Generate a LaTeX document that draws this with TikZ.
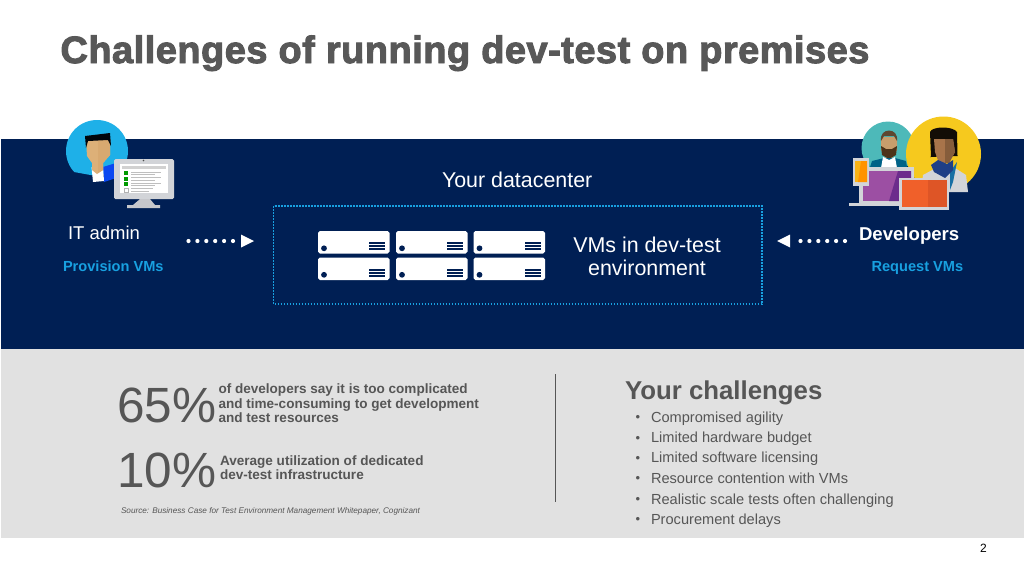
\documentclass[tikz,border=0pt]{standalone}
\usepackage{fontspec}
\setmainfont{Liberation Sans}
\definecolor{navy}{HTML}{001F54}
\definecolor{panel}{HTML}{E1E1E1}
\definecolor{azure}{HTML}{18A0E0}
\definecolor{sky}{HTML}{1EB0E8}
\definecolor{greytxt}{HTML}{565656}
\definecolor{titlegrey}{HTML}{585858}
\definecolor{skinA}{HTML}{DDB078}
\definecolor{skinB}{HTML}{A8744A}
\definecolor{monitor}{HTML}{D2D4D8}
\definecolor{tealc}{HTML}{4DB9B9}
\definecolor{sunny}{HTML}{F6C91E}
\definecolor{purpA}{HTML}{9C4FA3}
\definecolor{purpB}{HTML}{6C2C8C}
\definecolor{orngA}{HTML}{F0602A}
\definecolor{orngB}{HTML}{DE5526}
\definecolor{scarf}{HTML}{1F3F86}
\tikzset{
 x=1pt,y=-1pt,
 txt/.style={inner sep=0pt,outer sep=0pt,anchor=base west,align=left},
 lbl/.style={txt,text=white,font=\fontsize{21.4}{24}\selectfont},
 blue/.style={txt,text=azure,font=\fontsize{14.6}{16}\selectfont\bfseries},
 srv/.style={fill=white,rounded corners=1.8pt,draw=none},
 dots/.style={white,line width=4.2pt,line cap=round,dash pattern=on 0pt off 8.9pt},
 big/.style={txt,text=greytxt,font=\fontsize{49.5}{50}\selectfont},
 stat/.style={txt,text=greytxt,font=\fontsize{13.55}{14.75}\selectfont\bfseries,align=left},
 chal/.style={txt,text=greytxt,font=\fontsize{14.6}{20.4}\selectfont},
}
\newcommand{\srvbox}[2]{%
 \fill[srv] (#1,#2) rectangle +(71.5,22.5);
 \fill[navy] (#1+6,#2+17.3) circle (2.9);
 \fill[navy] (#1+51,#2+11) rectangle +(16,2);
 \fill[navy] (#1+51,#2+14.2) rectangle +(16,2);
 \fill[navy] (#1+51,#2+17.4) rectangle +(16,2);
}
\begin{document}
\begin{tikzpicture}
\useasboundingbox (0,0) rectangle (1024,576);
\fill[white] (0,0) rectangle (1024,576);
% bands
\fill[navy] (1,139) rectangle (1024,349);
\fill[panel] (1,349) rectangle (1024,538);
% title
\node[txt,text=titlegrey,font=\fontsize{38}{40}\selectfont\bfseries\addfontfeature{LetterSpace=1.25,FakeBold=2.6}] (title) at (60.5,63) {Challenges of running dev-test on premises};
% IT admin icon
\begin{scope}
\clip (60,115) -- (135,115) -- (135,165) -- (110,172) -- (96,176) -- (74,172) -- (60,165) -- cycle;
\fill[sky] (97,151) circle (31);
\end{scope}
\fill[blue!55!azure] (103,167) -- (116,163) -- (116,178) -- (104,182) -- cycle;
\fill[white] (91.5,167) -- (103,167) -- (104,181) -- (93,182) -- cycle;
\fill[skinA] (86,140) -- (110,139) -- (110,155) -- (103,163) -- (103,170) -- (97,174) -- (92,170) -- (92,163) -- (87,156) -- cycle;
\fill[skinA!85!brown] (98,140) -- (110,139) -- (110,155) -- (103,163) -- (103,170) -- (98,173) -- cycle;
\fill[black!85!navy] (85,136) -- (110,133) -- (111,146) -- (108,140) -- (88,141) -- (86,148) -- cycle;
% monitor
\fill[monitor,rounded corners=1.5pt] (114,159) rectangle (174,199);
\fill[white] (120,164) rectangle (168,193);
\fill[monitor!85!gray] (140,199) -- (150,199) -- (155,205) -- (160,205) -- (160,208) -- (127,208) -- (127,205) -- (133,205) -- cycle;
\fill[black!70] (143.5,160.5) circle (0.8);
\fill[black!18] (122,166) rectangle (166,169);
\foreach \yy in {171,176.5,182}{
 \fill[green!60!black] (124,\yy) rectangle +(4,4);
 \fill[black!25] (131,\yy+.5) rectangle +(30,1);
 \fill[black!25] (131,\yy+3) rectangle +(24,1);
}
\draw[black!30,line width=.4pt] (124,188) rectangle +(4,4);
\fill[black!25] (131,188) rectangle +(22,1);
\fill[black!25] (131,191) rectangle +(18,1);
% Developers icon
\fill[tealc] (888,148) circle (26.5);
\fill[skinA!90!black] (881,137) -- (897,137) -- (897,150) -- (892,158) -- (886,158) -- (881,150) -- cycle;
\fill[black!55!brown!80!gray] (881,141) .. controls (879,127) and (899,127) .. (897,141) -- (894,136) -- (884,136) -- cycle;
\fill[black!60!brown] (881,146) -- (886,149) -- (892,149) -- (897,146) -- (896,155) -- (889,159) -- (882,155) -- cycle;
\fill[navy!70!cyan] (870,167) -- (872,161) -- (884,158) -- (895,158) -- (906,161) -- (907,167) -- cycle;
\fill[white] (881,168) -- (883,157) -- (889,160) -- (895,157) -- (897,168) -- cycle;
\fill[sunny] (943.5,154) circle (37.5);
\begin{scope}
\clip (915,165) rectangle (975,192);
\fill[monitor] (921,192) -- (923,175) -- (936,168) -- (955,168) -- (966,175) -- (968,192) -- cycle;
\end{scope}
\fill[scarf!75!cyan] (950,172) -- (957,162) -- (953,182) -- (950,190) -- cycle;
\fill[black!90!brown] (931,157) -- (930,132) .. controls (932,126) and (953,126) .. (957,132) -- (957.5,156) -- (953,156) -- (930,157) -- cycle;
\fill[skinB] (934,139) -- (953,139) -- (955,152) -- (949,163) -- (939,163) -- (935,152) -- cycle;
\fill[skinB!80!black] (945,139) -- (953,139) -- (955,152) -- (949,163) -- (945,163) -- cycle;
\fill[scarf] (931,165) -- (938,160) -- (947,164) -- (953,160) -- (953,170) -- (945,178) -- (934,172) -- cycle;
% laptop
\fill[monitor] (859,167) rectangle (914,204);
\fill[purpA] (863,171) rectangle (911,201);
\fill[purpB] (898,171) -- (911,171) -- (911,201) -- (889,201) -- cycle;
\fill[monitor] (849,203) -- (914,203) -- (914,205.5) -- (849,205.5) -- cycle;
% phone
\fill[monitor] (853,158) rectangle (869,186);
\fill[sunny!70!orange] (855,161) rectangle (867,182);
\fill[orange!85!yellow] (861,161) -- (867,161) -- (867,182) -- (858,182) -- cycle;
% tablet
\fill[monitor] (899,178) rectangle (949,210);
\fill[orngA] (902,180) rectangle (947,207);
\fill[orngB] (928,180) rectangle (947,207);
% datacenter
\node[lbl] (dc) at (442,187.5) {Your datacenter};
\draw[azure,line width=1.7pt,dash pattern=on 1.7pt off 1.3pt] (273.5,206) rectangle (762,304);
\srvbox{318}{231}\srvbox{396}{231}\srvbox{473.5}{231}
\srvbox{318}{257.5}\srvbox{396}{257.5}\srvbox{473.5}{257.5}
\node[lbl,anchor=base] (vms) at (647,252) {VMs in dev-test};
\node[lbl,anchor=base] (env) at (647,275) {environment};
% people labels
\node[txt,text=white,font=\fontsize{18.5}{20}\selectfont] (it) at (68,239) {IT admin};
\node[blue] (prov) at (63,271) {Provision VMs};
\node[txt,text=white,font=\fontsize{18.6}{20}\selectfont\bfseries] (dev) at (859,240) {Developers};
\node[blue] (req) at (871.5,271) {Request VMs};
% arrows
\coordinate (la) at (188.5,241); \coordinate (lb) at (234,241);
\draw[dots] (la) -- (lb);
\fill[white] (241,234.5) -- (254,241) -- (241,247.5) -- cycle;
\coordinate (ra) at (845,241); \coordinate (rb) at (797,241);
\draw[dots] (ra) -- (rb);
\fill[white] (790,234.5) -- (777,241) -- (790,247.5) -- cycle;
% stats
\node[big] (p65) at (117,422) {65\%};
\node[stat,anchor=north west] (s1) at (218.5,383.5) {of developers say it is too complicated\\and time-consuming to get development\\and test resources};
\node[big] (p10) at (117,487.5) {10\%};
\node[stat,anchor=north west] (s2) at (220,455.3) {Average utilization of dedicated\\dev-test infrastructure};
\node[txt,text=greytxt,font=\fontsize{8.2}{10}\selectfont\itshape] (src) at (121,513) {Source: Business Case for Test Environment Management Whitepaper, Cognizant};
% divider
\coordinate (d1) at (555.5,374); \coordinate (d2) at (555.5,502);
\draw[greytxt,line width=1pt] (d1) -- (d2);
% challenges
\node[txt,text=greytxt,font=\fontsize{25.8}{28}\selectfont\bfseries] (yc) at (625,399) {Your challenges};
\foreach \yy/\tt in {422/Compromised agility,442.5/Limited hardware budget,462.5/Limited software licensing,483/Resource contention with VMs,504/Realistic scale tests often challenging,524/Procurement delays}{
 \node[chal] at (651,\yy) {\tt};
 \node[chal,anchor=base,font=\fontsize{13}{14}\selectfont] at (638,\yy-0.5) {•};
}
\node[txt,text=black,font=\fontsize{12}{14}\selectfont] (pg) at (980,552) {2};
\end{tikzpicture}
\end{document}
